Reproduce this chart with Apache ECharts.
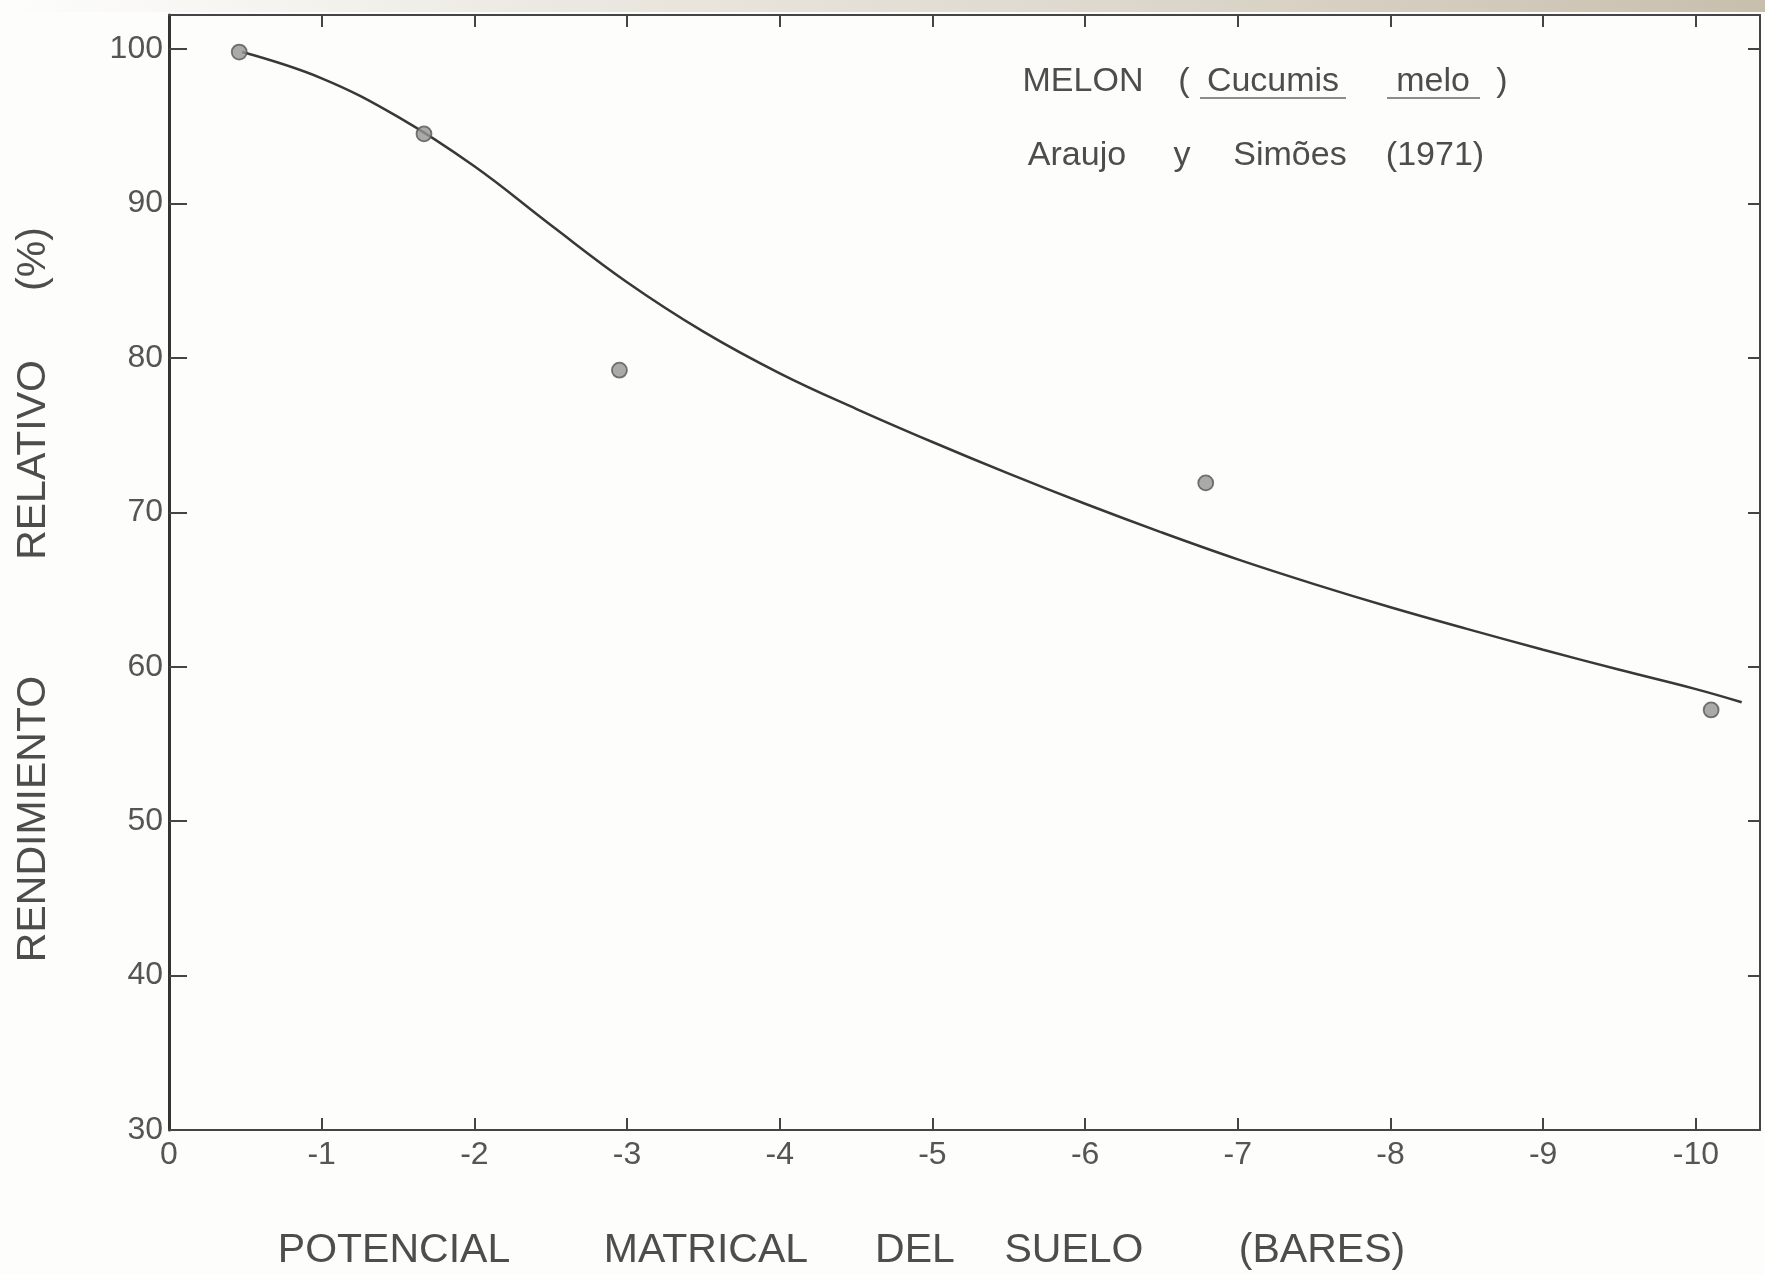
<!DOCTYPE html>
<html>
<head>
<meta charset="utf-8">
<script src="https://cdn.jsdelivr.net/npm/echarts@6/dist/echarts.min.js"></script>
<style>
  html, body { margin: 0; padding: 0; background: #fdfdfb; }
  #chart { width: 1765px; height: 1275px; }
</style>
</head>
<body>
<div id="chart"></div>
<script>
// ---- data ----
const xTickLabels = [0, -1, -2, -3, -4, -5, -6, -7, -8, -9, -10];
const xTickMarks = [-1, -2, -3, -4, -5, -6, -7, -8, -9, -10];
const yTickLabels = [30, 40, 50, 60, 70, 80, 90, 100];
const yTickMarks = [40, 50, 60, 70, 80, 90, 100];

// observed points (potencial matrical, rendimiento relativo %)
const obsX = [-0.46, -1.67, -2.95, -6.79, -10.1];
const obsY = [99.8, 94.5, 79.2, 71.9, 57.2];

// fitted curve
const curveX = [-0.48, -1.0, -1.5, -2.0, -2.5, -3.0, -3.5, -4.0, -4.5, -5.0, -5.5, -6.0, -6.5, -7.0, -7.5, -8.0, -8.5, -9.0, -9.5, -10.0, -10.3];
const curveY = [99.8, 98.1, 95.6, 92.4, 88.6, 84.9, 81.7, 79.0, 76.7, 74.55, 72.5, 70.55, 68.7, 66.95, 65.35, 63.85, 62.45, 61.1, 59.8, 58.55, 57.7];

const xTitleWords = ['POTENCIAL', 'MATRICAL', 'DEL', 'SUELO', '(BARES)'];
const yTitleWords = ['RENDIMIENTO', 'RELATIVO', '(%)'];
const note1Words = ['MELON', '(', 'Cucumis', 'melo', ')'];
const note2Words = ['Araujo', 'y', 'Simões', '(1971)'];

// ---- layout ----
const FONT = '"Liberation Sans", Arial, sans-serif';
const INK = '#4d4d4d';
const xTitlePos = [394, 706, 915, 1074, 1322];
const yTitlePos = [819, 460, 259];
const note1Pos = [1083, 1184, 1273, 1433, 1502];
const note2Pos = [1077, 1182, 1290, 1435];

const graphics = [];
graphics.push({
  type: 'rect', z: 0, silent: true,
  shape: { x: 0, y: 0, width: 1765, height: 12 },
  style: {
    fill: new echarts.graphic.LinearGradient(0, 0, 1, 0, [
      { offset: 0, color: 'rgba(230,226,218,0)' },
      { offset: 0.3, color: 'rgba(225,220,210,0.6)' },
      { offset: 1, color: 'rgba(200,190,172,1)' }
    ])
  }
});
function addWords(words, pos, yOrX, size, vertical) {
  words.forEach((w, i) => {
    graphics.push({
      type: 'text', z: 10, silent: true,
      x: vertical ? yOrX : pos[i],
      y: vertical ? pos[i] : yOrX,
      rotation: vertical ? Math.PI / 2 : 0,
      style: {
        text: w, fill: INK, font: 'normal ' + size + 'px ' + FONT,
        textAlign: 'center', textVerticalAlign: 'middle'
      }
    });
  });
}
addWords(xTitleWords, xTitlePos, 1251, 41, false);
addWords(yTitleWords, yTitlePos, 34, 41, true);
addWords(note1Words, note1Pos, 82, 34, false);
addWords(note2Words, note2Pos, 156, 34, false);
// underlines of the scientific name
[[1200, 1346], [1387, 1480]].forEach(s => {
  graphics.push({
    type: 'line', z: 10, silent: true,
    shape: { x1: s[0], y1: 98, x2: s[1], y2: 98 },
    style: { stroke: '#666', lineWidth: 1.5 }
  });
});

const axisLineStyle = { color: '#444', width: 2 };

const option = {
  backgroundColor: '#fdfdfb',
  animation: false,
  grid: { left: 169, right: 5, top: 15, bottom: 145, containLabel: false },
  xAxis: [
    {
      type: 'value', position: 'bottom', min: -10.42, max: 0, inverse: true,
      axisLine: { show: true, onZero: false, lineStyle: axisLineStyle },
      axisTick: { show: true, inside: true, length: 12, customValues: xTickMarks, lineStyle: axisLineStyle },
      axisLabel: { customValues: xTickLabels, fontSize: 32, color: '#555', margin: 9, fontFamily: FONT },
      splitLine: { show: false }
    },
    {
      type: 'value', position: 'top', min: -10.42, max: 0, inverse: true,
      axisLine: { show: true, onZero: false, lineStyle: axisLineStyle },
      axisTick: { show: true, inside: true, length: 12, customValues: xTickMarks, lineStyle: axisLineStyle },
      axisLabel: { show: false },
      splitLine: { show: false }
    }
  ],
  yAxis: [
    {
      type: 'value', position: 'left', min: 30, max: 102.2,
      axisLine: { show: true, onZero: false, lineStyle: { color: '#333', width: 3 } },
      axisTick: { show: true, inside: true, length: 18, customValues: yTickMarks, lineStyle: { color: '#444', width: 2 } },
      axisLabel: { customValues: yTickLabels, fontSize: 32, color: '#555', margin: 6, fontFamily: FONT },
      splitLine: { show: false }
    },
    {
      type: 'value', position: 'right', min: 30, max: 102.2,
      axisLine: { show: true, onZero: false, lineStyle: axisLineStyle },
      axisTick: { show: true, inside: true, length: 12, customValues: yTickMarks, lineStyle: axisLineStyle },
      axisLabel: { show: false },
      splitLine: { show: false }
    }
  ],
  series: [
    {
      type: 'line', name: 'curva', xAxisIndex: 0, yAxisIndex: 0,
      data: curveX.map((x, i) => [x, curveY[i]]),
      smooth: 0.4, showSymbol: false, symbol: 'none',
      lineStyle: { color: '#383838', width: 2.5 },
      z: 3
    },
    {
      type: 'scatter', name: 'observado', xAxisIndex: 0, yAxisIndex: 0,
      data: obsX.map((x, i) => [x, obsY[i]]),
      symbol: 'circle', symbolSize: 15,
      itemStyle: { color: '#959595', borderColor: '#555', borderWidth: 1.8 },
      z: 4
    }
  ],
  graphic: graphics
};

const chart = echarts.init(document.getElementById('chart'), null, { renderer: 'canvas' });
chart.setOption(option);
</script>
</body>
</html>
